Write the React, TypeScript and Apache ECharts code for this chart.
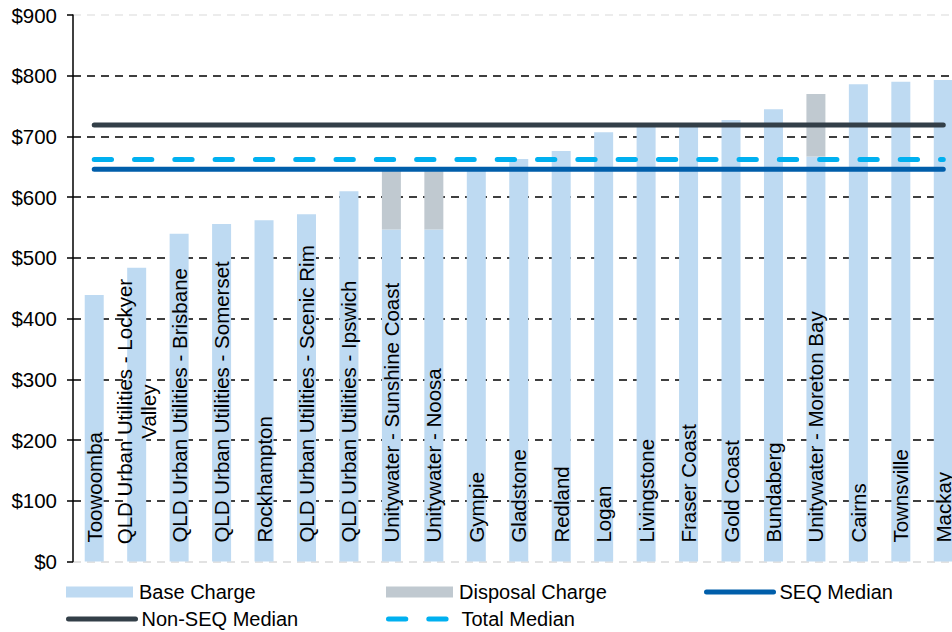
import React, { useEffect, useRef } from "react";
import * as echarts from "echarts";

const categories: string[] = [
  "Toowoomba",
  "QLD Urban Utilities - Lockyer\nValley",
  "QLD Urban Utilities - Brisbane",
  "QLD Urban Utilities - Somerset",
  "Rockhampton",
  "QLD Urban Utilities - Scenic Rim",
  "QLD Urban Utilities - Ipswich",
  "Unitywater - Sunshine Coast",
  "Unitywater - Noosa",
  "Gympie",
  "Gladstone",
  "Redland",
  "Logan",
  "Livingstone",
  "Fraser Coast",
  "Gold Coast",
  "Bundaberg",
  "Unitywater - Moreton Bay",
  "Cairns",
  "Townsville",
  "Mackay",
];

const baseCharge: number[] = [
  439, 484, 540, 556, 562, 572, 610, 547, 547, 648, 663, 676, 707, 718, 720, 727,
  745, 667, 786, 790, 793,
];

const disposalCharge: number[] = [
  0, 0, 0, 0, 0, 0, 0, 100, 100, 0, 0, 0, 0, 0, 0, 0, 0, 103, 0, 0, 0,
];

const seqMedian = 646;
const nonSeqMedian = 719;
const totalMedian = 662;

const yTicks = { min: 0, max: 900, interval: 100 };

const FONT = "'Liberation Sans', Arial, sans-serif";

export default function App() {
  const ref = useRef<HTMLDivElement>(null);

  useEffect(() => {
    if (!ref.current) return;
    const chart = echarts.init(ref.current, undefined, { renderer: "svg" });

    const baseData = baseCharge.map((v, i) =>
      i === 1
        ? {
            value: v,
            label: { align: "center", distance: 150 },
          }
        : v
    );

    const legendCommon = {
      orient: "horizontal",
      itemWidth: 67,
      itemHeight: 11,
      padding: 0,
      selectedMode: false,
      textStyle: { fontSize: 20, color: "#000", fontFamily: FONT, padding: [0, 0, 0, 1] },
    };
    const lineLegend = {
      ...legendCommon,
      lineStyle: { width: 5, cap: "round", type: "inherit" },
      itemStyle: { opacity: 0 },
    };

    const splitColors = ["#d9d9d9", "#000", "#000", "#000", "#000", "#000", "#000", "#000", "#000", "#e6e6e6"];

    chart.setOption({
      animation: false,
      backgroundColor: "#fff",
      textStyle: { fontFamily: FONT },
      grid: { left: 73, top: 15, width: 891.5, height: 546.6, containLabel: false },
      legend: [
        { ...legendCommon, data: [{ name: "Base Charge", icon: "rect" }], left: 66, top: 582 },
        { ...legendCommon, data: [{ name: "Disposal Charge", icon: "rect" }], left: 386, top: 582 },
        { ...lineLegend, data: ["SEQ Median"], left: 704, top: 582 },
        { ...lineLegend, data: ["Non-SEQ Median"], left: 66, top: 609 },
        { ...lineLegend, data: ["Total Median"], left: 386, top: 609 },
      ],
      xAxis: {
        type: "category",
        data: categories,
        axisLine: { show: false },
        axisTick: { show: false },
        axisLabel: { show: false },
        splitLine: { show: false },
      },
      yAxis: {
        type: "value",
        min: yTicks.min,
        max: yTicks.max,
        interval: yTicks.interval,
        axisLine: { show: true, lineStyle: { color: "#000", width: 1.5 } },
        axisTick: { show: true, length: 6, lineStyle: { color: "#000", width: 1.5 } },
        axisLabel: {
          formatter: (v: number) => "$" + v,
          fontSize: 20.5,
          color: "#000",
          margin: 16,
          fontFamily: FONT,
        },
        splitLine: {
          show: true,
          lineStyle: { color: splitColors, width: 1.5, type: [8, 6] },
        },
      },
      series: [
        {
          name: "Base Charge",
          type: "bar",
          stack: "charge",
          barWidth: 19,
          itemStyle: { color: "#BEDAF2" },
          data: baseData,
          label: {
            show: true,
            position: "insideBottom",
            rotate: 90,
            align: "left",
            verticalAlign: "middle",
            distance: 19,
            formatter: "{b}",
            fontSize: 20.5,
            lineHeight: 24,
            color: "#000",
            fontFamily: FONT,
          },
        },
        {
          name: "Disposal Charge",
          type: "bar",
          stack: "charge",
          barWidth: 19,
          itemStyle: { color: "#C0C9D0" },
          data: disposalCharge,
        },
        {
          name: "Non-SEQ Median",
          type: "line",
          symbol: "none",
          data: categories.map(() => nonSeqMedian),
          lineStyle: { color: "#333F48", width: 5, cap: "round" },
          itemStyle: { color: "#333F48" },
          z: 5,
        },
        {
          name: "SEQ Median",
          type: "line",
          symbol: "none",
          data: categories.map(() => seqMedian),
          lineStyle: { color: "#005EAA", width: 5, cap: "round" },
          itemStyle: { color: "#005EAA" },
          z: 5,
        },
        {
          name: "Total Median",
          type: "line",
          symbol: "none",
          data: categories.map(() => totalMedian),
          lineStyle: { color: "#00B0F0", width: 5, cap: "round", type: [17.3, 23] },
          itemStyle: { color: "#00B0F0" },
          z: 5,
        },
      ],
    });

    return () => chart.dispose();
  }, []);

  return (
    <div
      style={{
        position: "fixed",
        left: 0,
        top: 0,
        width: 952,
        height: 632,
        overflow: "hidden",
        background: "#fff",
      }}
    >
      <div ref={ref} style={{ position: "absolute", left: 0, top: 0, width: 972, height: 632 }} />
    </div>
  );
}
